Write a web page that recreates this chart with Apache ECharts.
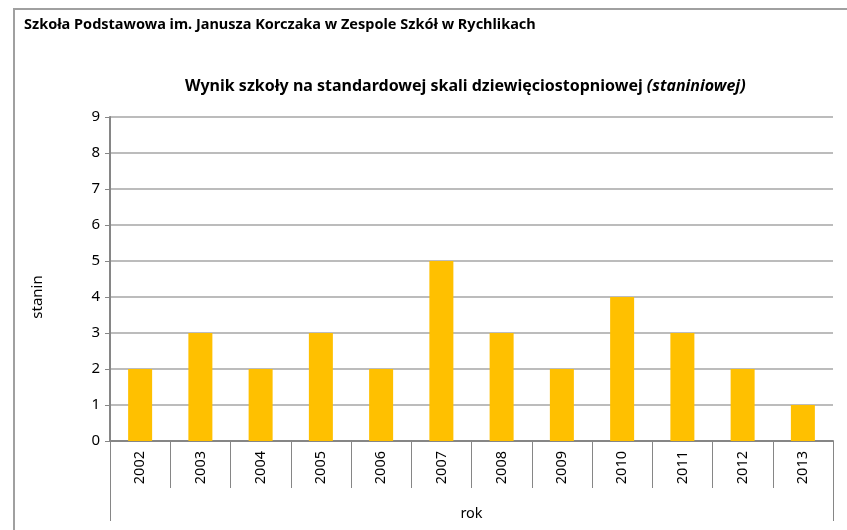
<!DOCTYPE html>
<html>
<head>
<meta charset="utf-8">
<script src="https://cdn.jsdelivr.net/npm/echarts@6/dist/echarts.min.js"></script>
<style>
  html, body { margin: 0; padding: 0; background: #fff; }
  #chart { width: 847px; height: 530px; }
</style>
</head>
<body>
<div id="chart"></div>
<script>
// dane z wykresu
const years = ['2002', '2003', '2004', '2005', '2006', '2007', '2008', '2009', '2010', '2011', '2012', '2013'];
const stanin = [2, 3, 2, 3, 2, 5, 3, 2, 4, 3, 2, 1];
const yTicks = [0, 1, 2, 3, 4, 5, 6, 7, 8, 9];
const schoolName = 'Szkoła Podstawowa im. Janusza Korczaka w Zespole Szkół w Rychlikach';

const FONT = 'Noto Sans';
const chart = echarts.init(document.getElementById('chart'));

const option = {
  animation: false,
  textStyle: { fontFamily: FONT },
  title: [
    {
      text: schoolName,
      left: 19, top: 12,
      textStyle: { fontSize: 14.5, fontWeight: 'bold', color: '#000', fontFamily: FONT }
    },
    {
      text: '{b|Wynik szkoły na standardowej skali dziewięciostopniowej }{i|(staniniowej)}',
      left: 180, top: 73,
      textStyle: {
        rich: {
          b: { fontSize: 16, fontWeight: 'bold', color: '#000', fontFamily: FONT },
          i: { fontSize: 16, fontStyle: 'italic', color: '#000', fontFamily: FONT }
        }
      }
    }
  ],
  graphic: [
    {
      type: 'rect',
      shape: { x: 14, y: 9, width: 900, height: 600 },
      style: { fill: 'none', stroke: '#a0a0a0', lineWidth: 2 },
      silent: true
    },
    {
      type: 'text',
      x: 38, y: 297,
      rotation: Math.PI / 2,
      style: {
        text: 'stanin', fontSize: 15, fill: '#000', fontFamily: FONT,
        align: 'center', verticalAlign: 'middle'
      },
      silent: true
    }
  ],
  grid: { left: 110, right: 14, top: 117, bottom: 89 },
  xAxis: [
    {
      type: 'category',
      data: years,
      boundaryGap: true,
      axisLine: { show: true, lineStyle: { color: '#868686', width: 2 } },
      axisTick: { show: true, interval: 0, alignWithLabel: false, length: 47, lineStyle: { color: '#868686', width: 1 } },
      axisLabel: {
        interval: 0, rotate: 90, margin: 10,
        fontSize: 14.5, color: '#000', fontFamily: FONT
      }
    },
    {
      type: 'category',
      data: ['rok'],
      position: 'bottom',
      offset: 47,
      axisLine: { show: false },
      axisTick: { show: true, length: 33, lineStyle: { color: '#868686', width: 1 } },
      axisLabel: { margin: 18, fontSize: 14.5, color: '#000', fontFamily: FONT }
    }
  ],
  yAxis: {
    type: 'value',
    min: 0, max: 9, interval: 1,
    axisLine: { show: true, lineStyle: { color: '#868686', width: 2 } },
    axisTick: { show: true, length: 5, lineStyle: { color: '#868686' } },
    axisLabel: {
      margin: 10, fontSize: 15, color: '#000', fontFamily: FONT,
      formatter: v => (yTicks.indexOf(v) >= 0 ? String(v) : '')
    },
    splitLine: { lineStyle: { color: '#a6a6a6', width: 1.5 } }
  },
  series: [
    {
      type: 'bar',
      data: stanin,
      barWidth: 24,
      itemStyle: { color: '#FFC000' },
      xAxisIndex: 0
    }
  ]
};

chart.setOption(option);
</script>
</body>
</html>
